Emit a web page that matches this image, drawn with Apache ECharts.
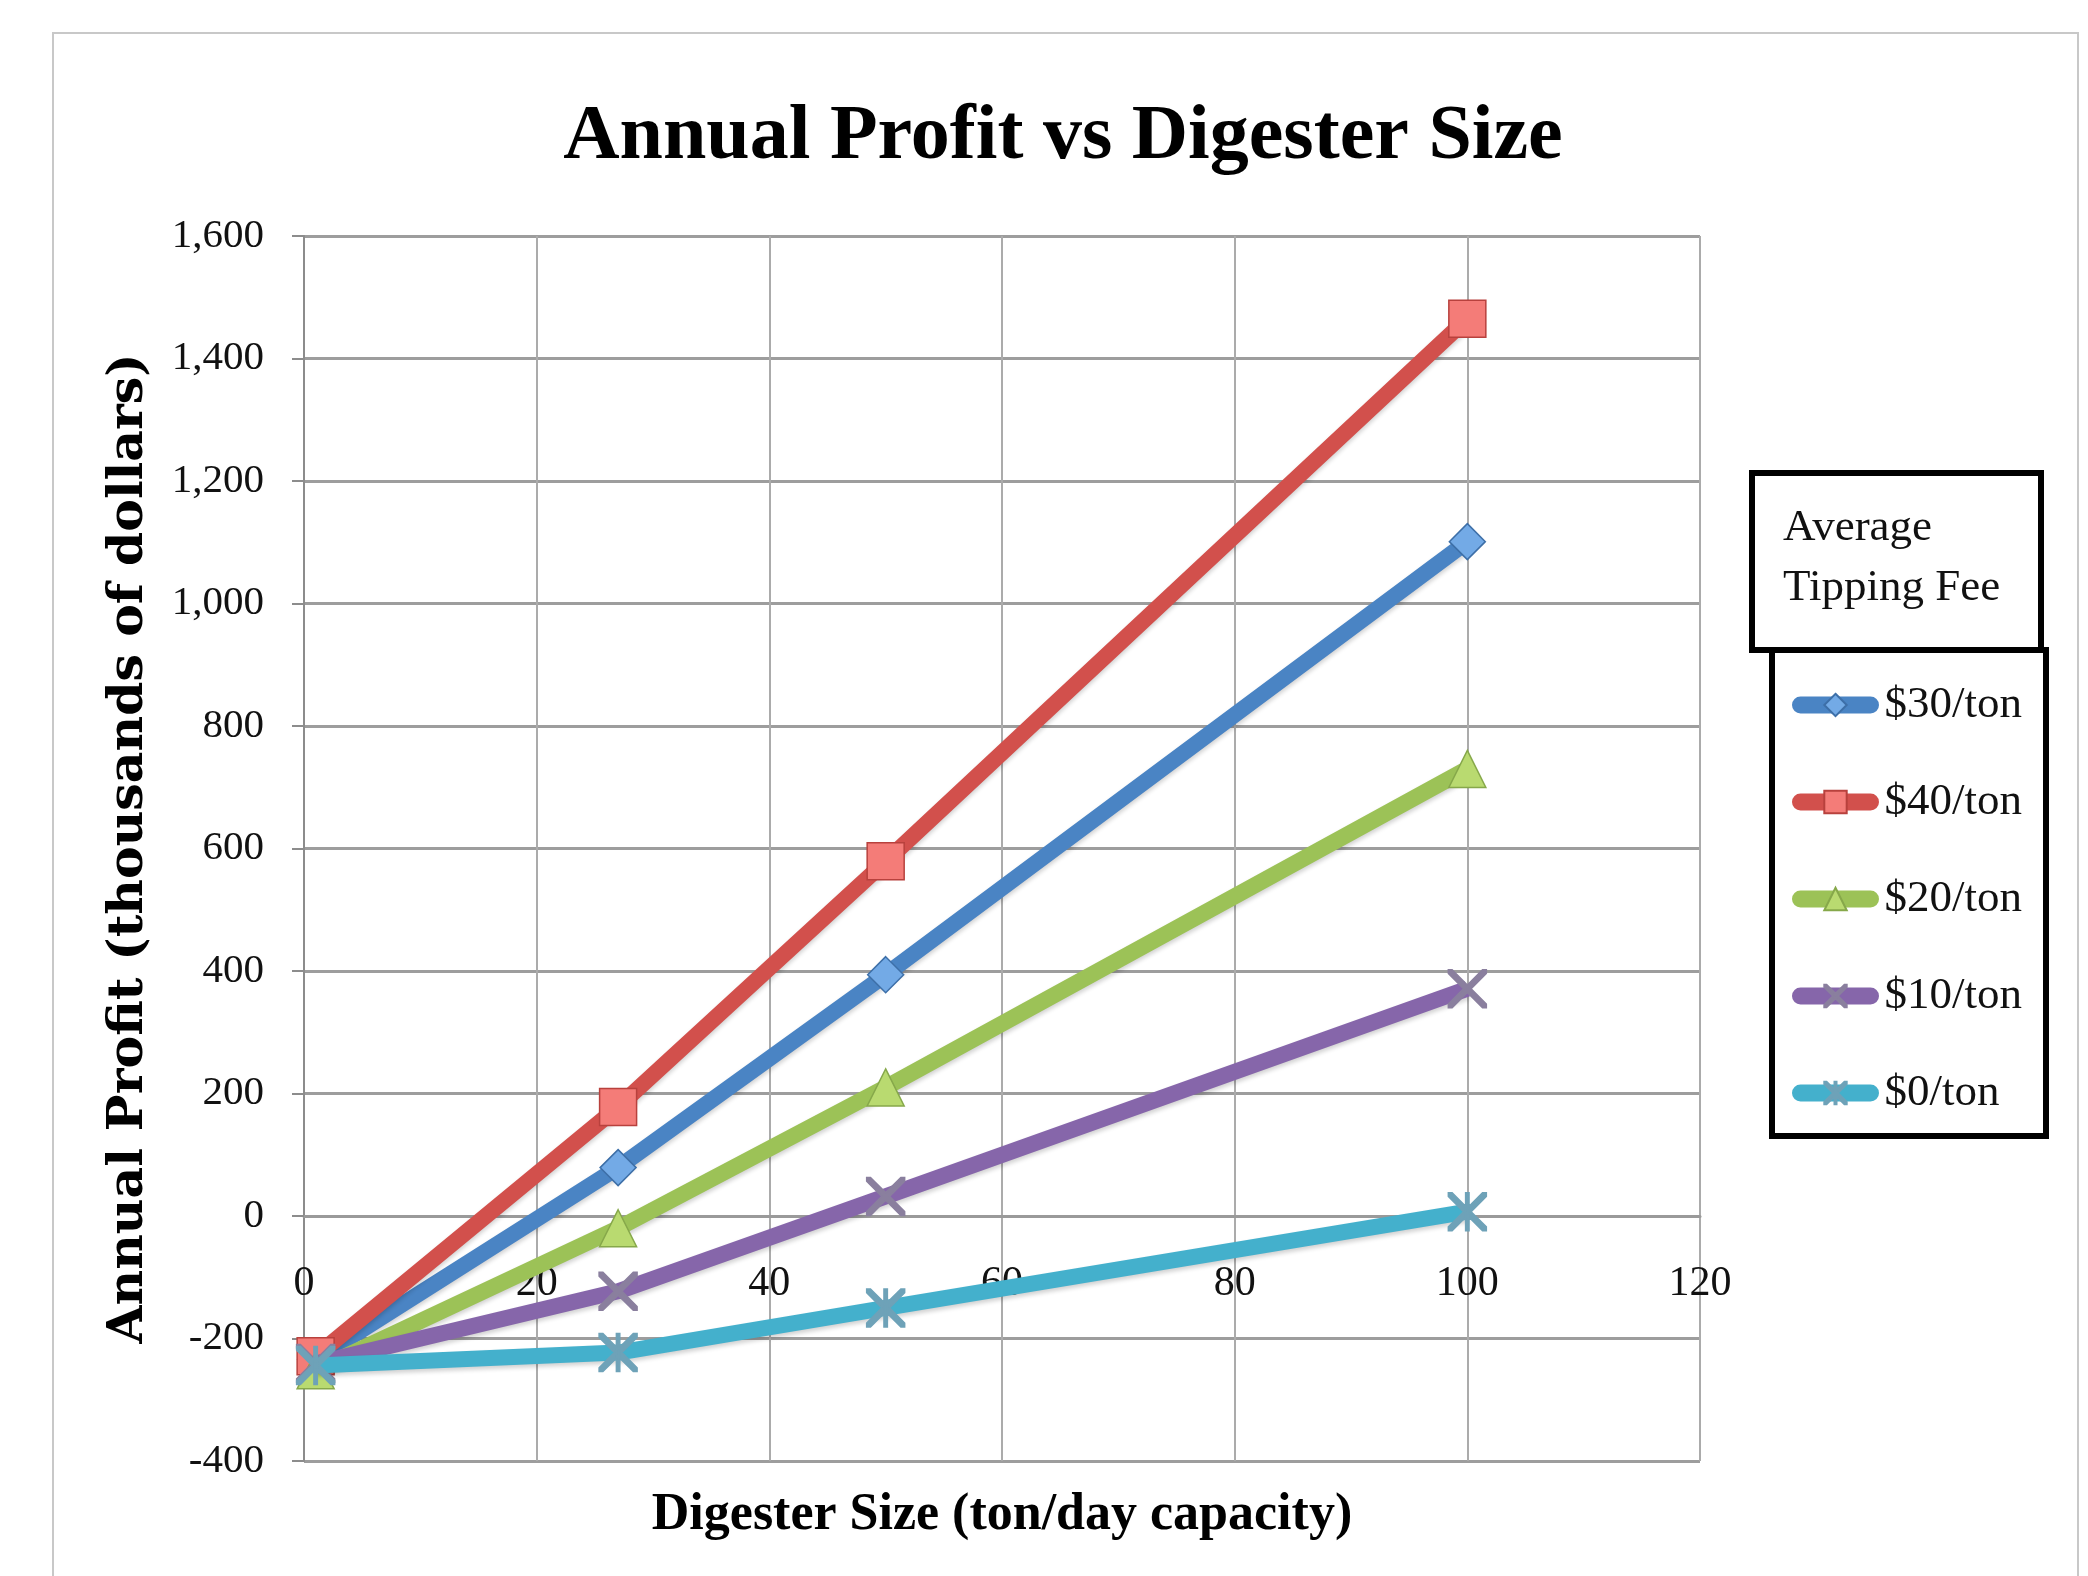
<!DOCTYPE html>
<html>
<head>
<meta charset="utf-8">
<script src="https://cdn.jsdelivr.net/npm/echarts@6/dist/echarts.min.js"></script>
<style>
html,body{margin:0;padding:0;background:#fff;}
#chart{width:2088px;height:1576px;}
</style>
</head>
<body>
<div id="chart"></div>
<script>
// Digester size (ton/day capacity)
const sizes = [1, 27, 50, 100];
// Annual profit (thousands of dollars) per average tipping fee
const fee30 = [-234, 79, 394, 1101];
const fee40 = [-229, 178, 579, 1465];
const fee20 = [-252, -20, 210, 730];
const fee10 = [-241, -123, 32, 371];
const fee0  = [-244, -223, -150, 7];
const seriesNames = ['$30/ton', '$40/ton', '$20/ton', '$10/ton', '$0/ton'];
const yTicks = { min: -400, max: 1600, interval: 200 };
const xTicks = { min: 0, max: 120, interval: 20 };

const X_PATH = 'path://M0,0 L2,0 L10,8 L18,0 L20,0 L20,2 L12,10 L20,18 L20,20 L18,20 L10,12 L2,20 L0,20 L0,18 L8,10 L0,2 Z';
const STAR_PATH = 'path://M0,0 L2,0 L10,8 L18,0 L20,0 L20,2 L12,10 L20,18 L20,20 L18,20 L10,12 L2,20 L0,20 L0,18 L8,10 L0,2 Z M9.1,0 L10.9,0 L10.9,20 L9.1,20 Z';

const styles = [
  { line: '#4a84c4', fill: '#73aae6', border: '#3d6fa8', symbol: 'diamond', size: 36 },
  { line: '#d2504c', fill: '#f47c78', border: '#b8413d', symbol: 'rect', size: 37 },
  { line: '#9cc257', fill: '#b9da70', border: '#86a84a', symbol: 'triangle', size: 37 },
  { line: '#8666aa', fill: '#8a7f9e', border: '#8a7f9e', symbol: X_PATH, size: 38 },
  { line: '#44b0cc', fill: '#6ea2b8', border: '#6ea2b8', symbol: STAR_PATH, size: 38 }
];
const values = [fee30, fee40, fee20, fee10, fee0];

const serif = 'Liberation Serif';

const GRID_TOP = 236, GRID_BOTTOM = 115, CHART_H = 1576;
const plotH = CHART_H - GRID_TOP - GRID_BOTTOM;
// distance from the bottom of the plot (y = min) up to the y = 0 line
const zeroOffset = plotH * (0 - yTicks.min) / (yTicks.max - yTicks.min);

const series = values.map((vals, i) => ({
  name: seriesNames[i],
  type: 'line',
  data: sizes.map((x, j) => [x, vals[j]]),
  symbol: styles[i].symbol,
  symbolSize: styles[i].size,
  showSymbol: true,
  lineStyle: {
    color: styles[i].line, width: 16,
    shadowColor: 'rgba(0,0,0,0.18)', shadowBlur: 4, shadowOffsetY: 3
  },
  itemStyle: {
    color: styles[i].fill, borderColor: styles[i].border, borderWidth: 1.5, opacity: 1
  },
  emphasis: { disabled: true },
  z: 3 + i
}));

const chart = echarts.init(document.getElementById('chart'), null, { renderer: 'canvas' });
chart.setOption({
  animation: false,
  backgroundColor: '#fff',
  title: {
    text: 'Annual Profit vs Digester Size',
    left: 1063,
    textAlign: 'center',
    top: 99,
    padding: 0,
    textStyle: { fontFamily: serif, fontWeight: 'bold', fontSize: 78, color: '#000' }
  },
  grid: {
    left: 304, right: 388, top: GRID_TOP, bottom: GRID_BOTTOM,
    containLabel: false, outerBoundsMode: 'none'
  },
  xAxis: {
    type: 'value',
    min: xTicks.min, max: xTicks.max, interval: xTicks.interval,
    position: 'bottom',
    offset: -zeroOffset,
    name: 'Digester Size (ton/day capacity)',
    nameLocation: 'middle',
    nameGap: 274,
    nameTextStyle: { fontFamily: serif, fontWeight: 'bold', fontSize: 52, color: '#000' },
    axisLine: { onZero: false, lineStyle: { color: '#9a9a9a', width: 3 } },
    axisTick: { show: false },
    axisLabel: { margin: 47, fontFamily: serif, fontSize: 42, color: '#111' },
    splitLine: { show: true, lineStyle: { color: '#ababab', width: 2 } }
  },
  yAxis: {
    type: 'value',
    min: yTicks.min, max: yTicks.max, interval: yTicks.interval,
    name: 'Annual Profit (thousands of dollars)',
    nameLocation: 'middle',
    nameGap: 150,
    nameRotate: 90,
    nameTextStyle: { fontFamily: 'DejaVu Serif', fontWeight: 'bold', fontSize: 49, color: '#000' },
    axisLine: { show: true, onZero: false, lineStyle: { color: '#8c8c8c', width: 2 } },
    axisTick: { show: true, length: 12, lineStyle: { color: '#8c8c8c', width: 2 } },
    axisLabel: {
      margin: 40, fontFamily: serif, fontSize: 41, color: '#111',
      formatter: v => v.toLocaleString('en-US')
    },
    splitLine: { show: true, lineStyle: { color: '#9d9d9d', width: 3 } }
  },
  legend: {
    orient: 'vertical',
    left: 1792,
    top: 680,
    padding: 0,
    itemWidth: 70,
    itemHeight: 28,
    itemGap: 47,
    data: seriesNames,
    lineStyle: { width: 17, cap: 'round' },
    textStyle: { fontFamily: serif, fontSize: 45, color: '#111', lineHeight: 50, padding: [0, 0, 0, 9] },
    selectedMode: false
  },
  graphic: [
    {
      type: 'rect', z: -10, silent: true,
      shape: { x: 53, y: 33, width: 2025, height: 1600 },
      style: { fill: 'none', stroke: '#c8c8c8', lineWidth: 2 }
    },
    {
      type: 'rect', z: 1, silent: true,
      shape: { x: 1772, y: 650, width: 274, height: 486 },
      style: { fill: '#fff', stroke: '#000', lineWidth: 6 }
    },
    {
      type: 'rect', z: 2, silent: true,
      shape: { x: 1752, y: 473, width: 289, height: 177 },
      style: { fill: '#fff', stroke: '#000', lineWidth: 6 }
    },
    {
      type: 'text', z: 3, silent: true,
      x: 1783, y: 498,
      style: {
        text: 'Average\nTipping Fee',
        fontFamily: serif, fontSize: 45, lineHeight: 60,
        fill: '#111', verticalAlign: 'top', align: 'left'
      }
    }
  ],
  series: series
});
</script>
</body>
</html>
